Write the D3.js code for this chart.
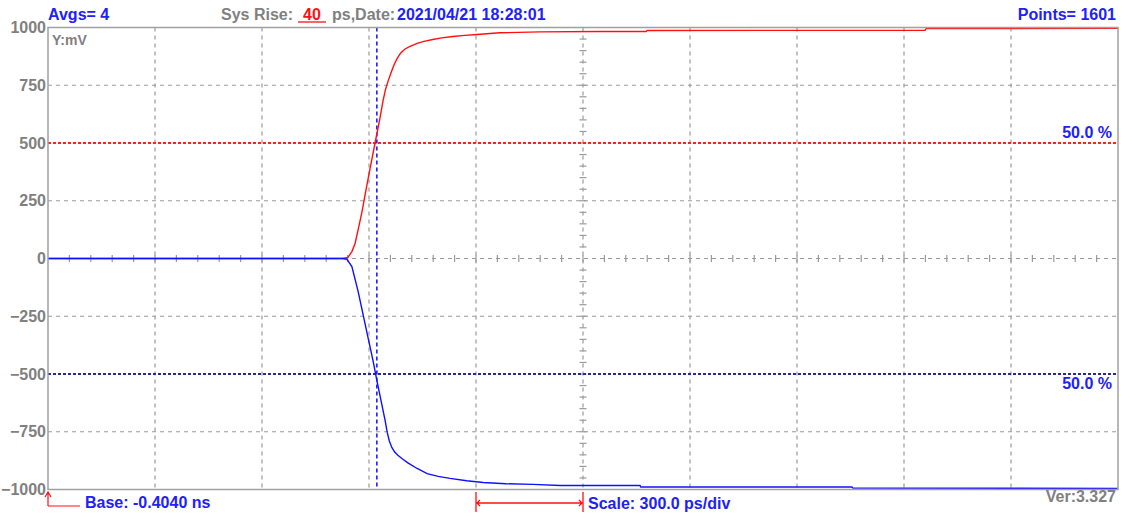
<!DOCTYPE html>
<html><head><meta charset="utf-8">
<script src="https://cdn.jsdelivr.net/npm/d3@7/dist/d3.min.js"></script>
<style>
html,body{margin:0;padding:0;background:#fff;}
svg{display:block;}
text{font-family:"Liberation Sans",Arial,sans-serif;font-weight:bold;}
</style></head>
<body><svg id="c" width="1127" height="516"></svg>
<script>
// ---- data ----
const xDomainNs = [-0.404, 2.596];          // Base -0.4040 ns, 300 ps/div x 10 div
const yDomainMv = [-1000, 1000];
const yTickValues = [1000, 750, 500, 250, 0, -250, -500, -750, -1000];
const gridDivNs = 0.3;
const minorDivNs = 0.06;
const minorDivMv = 50;
const cursorNs = 0.518;                     // blue 50% cursor

const redTimeNs = [-0.404, 0.420, 0.437, 0.448, 0.457, 0.465, 0.476, 0.488, 0.499, 0.513, 0.527, 0.535, 0.542, 0.550, 0.558, 0.566, 0.575, 0.585, 0.597, 0.611, 0.631, 0.650, 0.675, 0.700, 0.731, 0.765, 0.799, 0.863, 0.975, 1.143, 1.273, 1.276, 2.055, 2.058, 2.596];
const redMv     = [0, 0, 5, 30, 65, 121, 200, 300, 390, 500, 610, 680, 730, 770, 805, 838, 866, 890, 907, 918, 931, 940, 948, 955, 961, 966, 970, 977, 981, 983, 983, 987, 988, 995, 996];

const blueTimeNs = [-0.404, 0.420, 0.434, 0.448, 0.465, 0.479, 0.493, 0.507, 0.518, 0.529, 0.541, 0.547, 0.553, 0.560, 0.568, 0.577, 0.590, 0.605, 0.631, 0.659, 0.690, 0.723, 0.770, 0.816, 0.880, 0.956, 1.032, 1.256, 1.258, 1.850, 1.853, 2.596];
const blueMv     = [0, 0, -3, -35, -139, -240, -340, -440, -528, -610, -700, -752, -790, -818, -838, -852, -868, -885, -909, -931, -943, -952, -962, -970, -975, -978, -983, -983, -989, -989, -994, -995];

const levelsMv = [500, -500];

// ---- layout ----
const svg = d3.select("#c");
const L = 48, R = 1118, T = 27.5, B = 489.5;
const x = d3.scaleLinear().domain(xDomainNs).range([L, R]);
const y = d3.scaleLinear().domain(yDomainMv).range([B, T]);
const gridCol = "#9a9a9a", blueTxt = "#2020ff", grayTxt = "#808080";

// vertical grid
const vGrid = d3.range(1, 10).map(k => xDomainNs[0] + k * gridDivNs);
svg.append("g").selectAll("line").data(vGrid).join("line")
  .attr("x1", d => x(d)).attr("x2", d => x(d)).attr("y1", T).attr("y2", B)
  .attr("stroke", gridCol).attr("stroke-width", 1.2).attr("stroke-dasharray", "4,4");
// horizontal grid
const hGrid = yTickValues.filter(v => Math.abs(v) !== 1000 && Math.abs(v) !== 500);
svg.append("g").selectAll("line").data(hGrid).join("line")
  .attr("x1", L).attr("x2", R).attr("y1", d => y(d)).attr("y2", d => y(d))
  .attr("stroke", gridCol).attr("stroke-width", 1.2).attr("stroke-dasharray", "4,4");

// minor ticks on zero line
const minorX = d3.range(1, 50).map(k => xDomainNs[0] + k * minorDivNs);
svg.append("g").selectAll("line").data(minorX).join("line")
  .attr("x1", d => x(d)).attr("x2", d => x(d)).attr("y1", y(0) - 3.5).attr("y2", y(0) + 3.5)
  .attr("stroke", gridCol).attr("stroke-width", 1.2);
// minor ticks on centre vertical line
const centerNs = xDomainNs[0] + 5 * gridDivNs;
const minorY = d3.range(-950, 1000, minorDivMv).filter(v => v !== 0);
svg.append("g").selectAll("line").data(minorY).join("line")
  .attr("x1", x(centerNs) - 3.5).attr("x2", x(centerNs) + 3.5).attr("y1", d => y(d)).attr("y2", d => y(d))
  .attr("stroke", gridCol).attr("stroke-width", 1.2);

// 50% level lines
svg.append("g").selectAll("line").data(levelsMv).join("line")
  .attr("x1", L).attr("x2", R).attr("y1", d => y(d)).attr("y2", d => y(d))
  .attr("stroke", d => d > 0 ? "#ff2020" : "#28289a").attr("stroke-width", 1.8).attr("stroke-dasharray", "3,2");

// blue cursor
svg.append("line").attr("x1", x(cursorNs)).attr("x2", x(cursorNs)).attr("y1", T).attr("y2", B)
  .attr("stroke", "#1010ff").attr("stroke-width", 1.5).attr("stroke-dasharray", "4,3");

// traces
const line = d3.line().x(d => x(d[0])).y(d => y(d[1]));
svg.append("path").datum(redTimeNs.map((t, i) => [t, redMv[i]]))
  .attr("d", line).attr("fill", "none").attr("stroke", "#ff1010").attr("stroke-width", 1.4);
svg.append("path").datum(blueTimeNs.map((t, i) => [t, blueMv[i]]))
  .attr("d", line).attr("fill", "none").attr("stroke", "#1010ff").attr("stroke-width", 1.4);

// frame
svg.append("rect").attr("x", L).attr("y", T).attr("width", R - L).attr("height", B - T)
  .attr("fill", "none").attr("stroke", "#a0a0a0").attr("stroke-width", 1.5);

// y axis labels
const ya = svg.append("g").attr("transform", `translate(${L},0)`)
  .call(d3.axisLeft(y).tickValues(yTickValues).tickFormat(d3.format("d")).tickSize(0).tickPadding(2));
ya.select(".domain").remove();
ya.selectAll("text").attr("fill", grayTxt).style("font-size", "16px").style("font-weight", "bold")
  .style("font-family", '"Liberation Sans",Arial,sans-serif');

// texts
svg.append("text").attr("x", 52).attr("y", 45).attr("fill", grayTxt).style("font-size", "14px").text("Y:mV");
svg.append("text").attr("x", 48).attr("y", 20).attr("fill", blueTxt).style("font-size", "16px").text("Avgs= 4");
svg.append("text").attr("x", 221).attr("y", 20).attr("fill", grayTxt).style("font-size", "16px").text("Sys Rise:");
svg.append("text").attr("x", 303).attr("y", 20).attr("fill", "#ff1010").style("font-size", "16px").text("40");
svg.append("line").attr("x1", 298).attr("x2", 326).attr("y1", 22).attr("y2", 22).attr("stroke", "#ff1010").attr("stroke-width", 1.3);
svg.append("text").attr("x", 332).attr("y", 20).attr("fill", grayTxt).style("font-size", "16px").text("ps,Date:");
svg.append("text").attr("x", 397).attr("y", 20).attr("fill", blueTxt).style("font-size", "16px").text("2021/04/21 18:28:01");
svg.append("text").attr("x", 1116).attr("y", 20).attr("text-anchor", "end").attr("fill", blueTxt).style("font-size", "16px").text("Points= 1601");

svg.selectAll("text.lvl").data(levelsMv).join("text").attr("class", "lvl")
  .attr("x", 1112).attr("y", d => d > 0 ? y(d) - 5 : y(d) + 15).attr("text-anchor", "end")
  .attr("fill", blueTxt).style("font-size", "16px").text("50.0 %");

// base marker
svg.append("path").attr("d", `M${L},506 L${L},493 M${L-3},497 L${L},492 L${L+3},497 M${L},506 L80,506`)
  .attr("fill", "none").attr("stroke", "#ff1010").attr("stroke-width", 1.2);
svg.append("text").attr("x", 85).attr("y", 508).attr("fill", blueTxt).style("font-size", "16px").text("Base: -0.4040 ns");

// scale bracket
const s0 = x(xDomainNs[0] + 4 * gridDivNs), s1 = x(xDomainNs[0] + 5 * gridDivNs);
svg.append("path").attr("d", `M${s0},492 L${s0},512 M${s1},492 L${s1},512 M${s0},503 L${s1},503 M${s0+4},500 L${s0+1},503 L${s0+4},506 M${s1-4},500 L${s1-1},503 L${s1-4},506`)
  .attr("fill", "none").attr("stroke", "#ff1010").attr("stroke-width", 1.3);
svg.append("text").attr("x", 588).attr("y", 509).attr("fill", blueTxt).style("font-size", "16px").text("Scale: 300.0 ps/div");

svg.append("text").attr("x", 1116).attr("y", 502).attr("text-anchor", "end").attr("fill", grayTxt).style("font-size", "16px").text("Ver:3.327");
</script></body></html>
